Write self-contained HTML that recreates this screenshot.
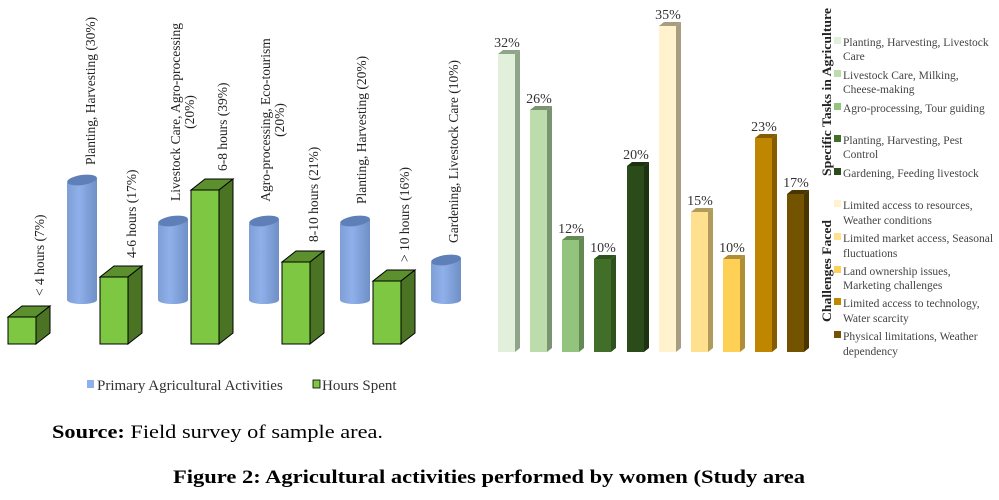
<!DOCTYPE html>
<html><head><meta charset="utf-8"><style>
html,body{margin:0;padding:0;background:#fff;}
svg{display:block;font-family:"Liberation Serif",serif;}
</style></head><body>
<svg width="999" height="500" viewBox="0 0 999 500" xmlns="http://www.w3.org/2000/svg">
<defs>
<linearGradient id="cyl" x1="0" x2="1" y1="0" y2="0">
<stop offset="0" stop-color="#7f9ed6"/><stop offset="0.4" stop-color="#8fb0ea"/><stop offset="1" stop-color="#6f8fc6"/>
</linearGradient>
</defs>
<!-- cylinders -->
<g fill="url(#cyl)">
<path d="M67 183 L67 300 A15 4 0 0 0 97 300 L97 178 Z"/>
<path d="M158 224 L158 300 A15 4 0 0 0 188 300 L188 219 Z"/>
<path d="M249 224 L249 300 A15 4 0 0 0 279 300 L279 219 Z"/>
<path d="M340 224 L340 300 A15 4 0 0 0 370 300 L370 219 Z"/>
<path d="M431 263 L431 300 A15 4 0 0 0 461 300 L461 258 Z"/>
</g>
<g fill="#5f7fb8">
<ellipse cx="82" cy="180" rx="15" ry="5" transform="rotate(-8 82 180)"/>
<ellipse cx="173" cy="221" rx="15" ry="5" transform="rotate(-8 173 221)"/>
<ellipse cx="264" cy="221" rx="15" ry="5" transform="rotate(-8 264 221)"/>
<ellipse cx="355" cy="221" rx="15" ry="5" transform="rotate(-8 355 221)"/>
<ellipse cx="446" cy="260" rx="15" ry="5" transform="rotate(-8 446 260)"/>
</g>
<!-- green boxes -->
<g stroke="#000" stroke-width="1">
<g><rect x="8" y="317" width="28" height="27" fill="#7dc742"/><path d="M8 317 L22 306 L50 306 L36 317 Z" fill="#5c8f2e"/><path d="M36 317 L50 306 L50 333 L36 344 Z" fill="#4a7424"/></g>
<g><rect x="100" y="277" width="28" height="67" fill="#7dc742"/><path d="M100 277 L114 266 L142 266 L128 277 Z" fill="#5c8f2e"/><path d="M128 277 L142 266 L142 333 L128 344 Z" fill="#4a7424"/></g>
<g><rect x="191" y="190" width="28" height="154" fill="#7dc742"/><path d="M191 190 L205 179 L233 179 L219 190 Z" fill="#5c8f2e"/><path d="M219 190 L233 179 L233 333 L219 344 Z" fill="#4a7424"/></g>
<g><rect x="282" y="262" width="28" height="82" fill="#7dc742"/><path d="M282 262 L296 251 L324 251 L310 262 Z" fill="#5c8f2e"/><path d="M310 262 L324 251 L324 333 L310 344 Z" fill="#4a7424"/></g>
<g><rect x="373" y="281" width="28" height="63" fill="#7dc742"/><path d="M373 281 L387 270 L415 270 L401 281 Z" fill="#5c8f2e"/><path d="M401 281 L415 270 L415 333 L401 344 Z" fill="#4a7424"/></g>
</g>
<!-- rotated labels -->
<g font-size="13.5" fill="#222">
<text transform="translate(44,296) rotate(-90)">&lt; 4 hours (7%)</text>
<text transform="translate(95,165) rotate(-90)">Planting, Harvesting (30%)</text>
<text transform="translate(136,258) rotate(-90)">4-6 hours (17%)</text>
<text transform="translate(180,112) rotate(-90)" text-anchor="middle"><tspan x="0" y="0">Livestock Care, Agro-processing</tspan><tspan x="0" y="14">(20%)</tspan></text>
<text transform="translate(227,171) rotate(-90)">6-8 hours (39%)</text>
<text transform="translate(270,120) rotate(-90)" text-anchor="middle"><tspan x="0" y="0">Agro-processing, Eco-tourism</tspan><tspan x="0" y="14">(20%)</tspan></text>
<text transform="translate(318,242) rotate(-90)">8-10 hours (21%)</text>
<text transform="translate(366,204) rotate(-90)">Planting, Harvesting (20%)</text>
<text transform="translate(409,262) rotate(-90)">&gt; 10 hours (16%)</text>
<text transform="translate(458,243) rotate(-90)">Gardening, Livestock Care (10%)</text>
</g>
<!-- legend -->
<rect x="87" y="380" width="7" height="8" fill="#8fb0ea"/>
<text x="97" y="390" font-size="15" fill="#333">Primary Agricultural Activities</text>
<rect x="313" y="380" width="7" height="8" fill="#7dc742" stroke="#000" stroke-width="0.8"/>
<text x="322" y="390" font-size="15" fill="#333">Hours Spent</text>

<!-- right bars -->
<g font-size="14" fill="#333" text-anchor="middle">
<g><rect x="498" y="54" width="17" height="298" fill="#e2efda"/><path d="M498 54 L503 50 L520 50 L515 54Z" fill="#8fa488"/><path d="M515 54 L520 50 L520 348 L515 352Z" fill="#8fa488"/><text x="507" y="47">32%</text></g>
<g><rect x="530" y="110" width="17" height="242" fill="#bcdcac"/><path d="M530 110 L535 106 L552 106 L547 110Z" fill="#7a9370"/><path d="M547 110 L552 106 L552 348 L547 352Z" fill="#7a9370"/><text x="539" y="103">26%</text></g>
<g><rect x="562" y="240" width="17" height="112" fill="#93c47d"/><path d="M562 240 L567 236 L584 236 L579 240Z" fill="#628a52"/><path d="M579 240 L584 236 L584 348 L579 352Z" fill="#628a52"/><text x="571" y="233">12%</text></g>
<g><rect x="594" y="259" width="17" height="93" fill="#416e28"/><path d="M594 259 L599 255 L616 255 L611 259Z" fill="#2e521b"/><path d="M611 259 L616 255 L616 348 L611 352Z" fill="#2e521b"/><text x="603" y="252">10%</text></g>
<g><rect x="627" y="166" width="17" height="186" fill="#2c4b1b"/><path d="M627 166 L632 162 L649 162 L644 166Z" fill="#1c3210"/><path d="M644 166 L649 162 L649 348 L644 352Z" fill="#1c3210"/><text x="636" y="159">20%</text></g>
<g><rect x="659" y="26" width="17" height="326" fill="#fff2cc"/><path d="M659 26 L664 22 L681 22 L676 26Z" fill="#a89d80"/><path d="M676 26 L681 22 L681 348 L676 352Z" fill="#a89d80"/><text x="668" y="19">35%</text></g>
<g><rect x="691" y="212" width="17" height="140" fill="#ffe08f"/><path d="M691 212 L696 208 L713 208 L708 212Z" fill="#b09a5c"/><path d="M708 212 L713 208 L713 348 L708 352Z" fill="#b09a5c"/><text x="700" y="205">15%</text></g>
<g><rect x="723" y="259" width="17" height="93" fill="#ffd056"/><path d="M723 259 L728 255 L745 255 L740 259Z" fill="#b08e35"/><path d="M740 259 L745 255 L745 348 L740 352Z" fill="#b08e35"/><text x="732" y="252">10%</text></g>
<g><rect x="755" y="138" width="17" height="214" fill="#bf8600"/><path d="M755 138 L760 134 L777 134 L772 138Z" fill="#855c00"/><path d="M772 138 L777 134 L777 348 L772 352Z" fill="#855c00"/><text x="764" y="131">23%</text></g>
<g><rect x="787" y="194" width="17" height="158" fill="#735200"/><path d="M787 194 L792 190 L809 190 L804 194Z" fill="#4a3500"/><path d="M804 194 L809 190 L809 348 L804 352Z" fill="#4a3500"/><text x="796" y="187">17%</text></g>
</g>
<!-- right legend -->
<text transform="translate(831,176) rotate(-90)" font-size="13" font-weight="bold" fill="#222" textLength="168" lengthAdjust="spacingAndGlyphs">Specific Tasks in Agriculture</text>
<text transform="translate(831,322) rotate(-90)" font-size="13" font-weight="bold" fill="#222" textLength="102" lengthAdjust="spacingAndGlyphs">Challenges Faced</text>
<g font-size="11.5" fill="#444">
<rect x="834" y="37" width="7" height="7" fill="#e2efda"/><text x="843" y="46">Planting, Harvesting, Livestock</text><text x="843" y="60">Care</text>
<rect x="834" y="70" width="7" height="7" fill="#bcdcac"/><text x="843" y="79">Livestock Care, Milking,</text><text x="843" y="93">Cheese-making</text>
<rect x="834" y="103" width="7" height="7" fill="#93c47d"/><text x="843" y="112">Agro-processing, Tour guiding</text>
<rect x="834" y="135" width="7" height="7" fill="#416e28"/><text x="843" y="144">Planting, Harvesting, Pest</text><text x="843" y="158">Control</text>
<rect x="834" y="168" width="7" height="7" fill="#2c4b1b"/><text x="843" y="177">Gardening, Feeding livestock</text>
<rect x="834" y="200" width="7" height="7" fill="#fff2cc"/><text x="843" y="209">Limited access to resources,</text><text x="843" y="224">Weather conditions</text>
<rect x="834" y="233" width="7" height="7" fill="#ffe08f"/><text x="843" y="242">Limited market access, Seasonal</text><text x="843" y="257">fluctuations</text>
<rect x="834" y="266" width="7" height="7" fill="#ffd056"/><text x="843" y="275">Land ownership issues,</text><text x="843" y="289">Marketing challenges</text>
<rect x="834" y="298" width="7" height="7" fill="#bf8600"/><text x="843" y="307">Limited access to technology,</text><text x="843" y="322">Water scarcity</text>
<rect x="834" y="331" width="7" height="7" fill="#735200"/><text x="843" y="340">Physical limitations, Weather</text><text x="843" y="355">dependency</text>
</g>
<!-- captions -->
<text x="52" y="438" font-size="19" fill="#000" textLength="331" lengthAdjust="spacingAndGlyphs"><tspan font-weight="bold">Source:</tspan> Field survey of sample area.</text>
<text x="173" y="483" font-size="19" font-weight="bold" fill="#000" textLength="632" lengthAdjust="spacingAndGlyphs">Figure 2: Agricultural activities performed by women (Study area</text>
</svg>
</body></html>
